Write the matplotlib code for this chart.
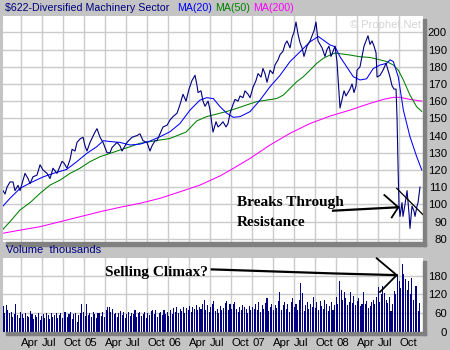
import numpy as np
import matplotlib
matplotlib.use("Agg")
import matplotlib.pyplot as plt
from matplotlib.patches import Rectangle

# weekly close, sampled off the chart (decimal years)
price_t = [2004.032, 2004.056, 2004.080, 2004.115, 2004.151, 2004.175, 2004.211, 2004.235, 2004.294, 2004.330,
           2004.354, 2004.389, 2004.437, 2004.473, 2004.508, 2004.556, 2004.592, 2004.627, 2004.675, 2004.735,
           2004.758, 2004.794, 2004.830, 2004.854, 2004.889, 2004.913, 2004.949, 2004.985, 2005.008, 2005.032,
           2005.068, 2005.127, 2005.151, 2005.187, 2005.223, 2005.246, 2005.270, 2005.306, 2005.330, 2005.389,
           2005.425, 2005.449, 2005.508, 2005.568, 2005.627, 2005.663, 2005.699, 2005.746, 2005.782, 2005.806,
           2005.842, 2005.865, 2005.901, 2005.937, 2005.985, 2006.020, 2006.056, 2006.104, 2006.139, 2006.175,
           2006.211, 2006.246, 2006.282, 2006.318, 2006.342, 2006.354, 2006.389, 2006.413, 2006.437, 2006.473,
           2006.496, 2006.532, 2006.568, 2006.592, 2006.615, 2006.651, 2006.687, 2006.711, 2006.735, 2006.770,
           2006.794, 2006.830, 2006.854, 2006.889, 2006.913, 2006.949, 2006.973, 2007.008, 2007.044, 2007.068,
           2007.104, 2007.127, 2007.151, 2007.175, 2007.211, 2007.246, 2007.270, 2007.306, 2007.330, 2007.365,
           2007.389, 2007.413, 2007.449, 2007.473, 2007.496, 2007.520, 2007.544, 2007.568, 2007.592, 2007.615,
           2007.651, 2007.687, 2007.711, 2007.735, 2007.758, 2007.782, 2007.806, 2007.830, 2007.865, 2007.889,
           2007.913, 2007.937, 2007.961, 2007.985, 2008.008, 2008.020, 2008.044, 2008.068, 2008.092, 2008.115,
           2008.139, 2008.163, 2008.187, 2008.211, 2008.235, 2008.246, 2008.282, 2008.306, 2008.330, 2008.354,
           2008.377, 2008.401, 2008.425, 2008.449, 2008.473, 2008.485, 2008.520, 2008.556, 2008.592, 2008.615,
           2008.639, 2008.663, 2008.687, 2008.711, 2008.723, 2008.735, 2008.746, 2008.758, 2008.782, 2008.794,
           2008.818, 2008.842, 2008.865, 2008.877, 2008.901, 2008.925, 2008.937, 2008.961, 2008.973, 2008.996]
price_v = [108, 106, 110, 113, 113, 108, 111, 108, 118, 115,
           112, 116, 117, 123, 120, 118, 115, 121, 118, 125,
           124, 121, 126, 132, 131, 136, 138, 139, 134, 131,
           136, 142, 144, 139, 136, 133, 130, 130, 133, 136,
           134, 131, 136, 139, 140, 141, 137, 136, 131, 134,
           137, 137, 141, 145, 146, 149, 151, 153, 158, 164,
           160, 167, 172, 175, 169, 165, 166, 160, 157, 160,
           155, 142, 148, 145, 146, 148, 145, 147, 153, 158,
           161, 160, 163, 162, 166, 164, 162, 168, 172, 176,
           174, 179, 176, 171, 178, 176, 181, 184, 187, 189,
           193, 195, 191, 197, 200, 206, 199, 194, 191, 186,
           192, 195, 198, 201, 206, 195, 193, 191, 186, 190,
           192, 186, 189, 192, 183, 174, 156, 161, 166, 163,
           165, 167, 170, 165, 169, 178, 180, 186, 192, 195,
           198, 193, 195, 192, 188, 174, 175, 178, 182, 178,
           174, 169, 167, 167, 150, 122, 100, 93, 101, 93,
           100, 108, 95, 86, 99, 96, 93, 99, 101, 110]

ma20_t = [2004.032, 2004.115, 2004.235, 2004.354, 2004.512, 2004.631, 2004.790, 2004.910, 2005.029, 2005.148,
          2005.226, 2005.306, 2005.425, 2005.544, 2005.663, 2005.782, 2005.901, 2006.020, 2006.139, 2006.258,
          2006.377, 2006.457, 2006.536, 2006.615, 2006.695, 2006.774, 2006.854, 2006.973, 2007.092, 2007.211,
          2007.330, 2007.449, 2007.568, 2007.687, 2007.786, 2007.845, 2007.925, 2007.985, 2008.044, 2008.123,
          2008.202, 2008.282, 2008.361, 2008.440, 2008.520, 2008.600, 2008.639, 2008.679, 2008.738, 2008.798,
          2008.877, 2008.957, 2009.017]
ma20_v = [99, 103.5, 109.3, 112.4, 116, 118, 120.3, 124.8, 129.6, 133.5,
          137, 136.5, 136, 134.5, 135, 136.8, 139.3, 142.2, 147, 154.8,
          160.6, 162, 161.5, 156.8, 153, 150.6, 151, 153.9, 160.6, 168.4,
          175, 183, 188.7, 194.5, 197.6, 195.5, 192.7, 191.6, 185.8, 180,
          174.2, 172.3, 173, 179, 181, 182, 184, 183, 174, 154.8,
          139.3, 127.7, 120]

ma50_t = [2004.032, 2004.115, 2004.235, 2004.354, 2004.473, 2004.592, 2004.711, 2004.830, 2004.949, 2005.068,
          2005.187, 2005.306, 2005.425, 2005.544, 2005.663, 2005.782, 2005.901, 2006.020, 2006.211, 2006.338,
          2006.457, 2006.576, 2006.695, 2006.814, 2006.933, 2007.052, 2007.171, 2007.290, 2007.369, 2007.449,
          2007.529, 2007.607, 2007.687, 2007.767, 2007.845, 2007.925, 2007.985, 2008.044, 2008.163, 2008.282,
          2008.401, 2008.520, 2008.600, 2008.679, 2008.738, 2008.798, 2008.877, 2008.957, 2009.017]
ma50_v = [85.5, 89.9, 96.7, 101, 106.4, 111.2, 114.1, 118, 121, 124.8,
          127.7, 129.6, 131.6, 133.5, 135.5, 136.4, 137.4, 138.3, 142, 148.5,
          151, 152.5, 154, 155.8, 157.8, 159.7, 160.6, 161.5, 163.5, 167.4,
          171.3, 174.2, 178, 182, 184.9, 186.8, 188, 187.6, 186.8, 185.8,
          185.4, 184, 183, 181, 178, 172.3, 163.5, 156.7, 154]

ma200_t = [2004.032, 2004.235, 2004.473, 2004.711, 2004.949, 2005.187, 2005.425, 2005.663, 2005.901, 2006.139,
           2006.377, 2006.615, 2006.735, 2006.973, 2007.211, 2007.449, 2007.687, 2007.925, 2008.163, 2008.401,
           2008.560, 2008.679, 2008.758, 2008.877, 2009.017]
ma200_v = [83.2, 85, 87, 89.9, 92.8, 95.7, 98.3, 100.6, 103.5, 107.3,
           111.2, 116.5, 119.8, 126.7, 134.5, 141.3, 147, 151.3, 154.8, 158.7,
           161, 162.2, 162.2, 161, 160]

# weekly volume (thousands), first week of 2004 onwards
vol_2004 = [82, 60, 86, 68, 58, 62, 48, 55, 88, 52, 45, 62, 56, 42, 58, 50, 48, 67, 55, 40,
            52, 46, 58, 38, 50, 56, 44, 60, 52, 40, 58, 48, 54, 60, 45, 52, 58, 42, 64, 62,
            48, 56, 64, 40, 55, 60, 30, 52, 58, 88, 62, 50]
vol_2005 = [88, 52, 60, 48, 62, 55, 44, 58, 58, 50, 62, 47, 70, 78, 80, 64, 72, 55, 60, 48,
            58, 66, 52, 62, 45, 56, 64, 50, 60, 55, 68, 46, 58, 62, 50, 56, 64, 44, 60, 52,
            66, 68, 55, 68, 48, 58, 62, 52, 70, 56, 64, 50]
vol_2006 = [68, 55, 75, 62, 78, 58, 72, 66, 80, 60, 76, 70, 82, 64, 78, 72, 86, 68, 80, 74,
            88, 100, 70, 84, 62, 78, 90, 97, 66, 74, 58, 82, 70, 76, 92, 97, 68, 88, 74, 90,
            96, 72, 64, 80, 70, 86, 80, 74, 60, 82, 68, 78]
vol_2007 = [72, 88, 70, 95, 62, 85, 74, 92, 108, 66, 80, 90, 70, 84, 75, 98, 126, 68, 86, 94,
            72, 88, 64, 96, 108, 78, 90, 70, 102, 157, 124, 66, 85, 96, 72, 90, 80, 111, 76, 94,
            68, 97, 82, 74, 100, 88, 66, 81, 94, 70, 86, 110]
vol_2008 = [90, 162, 135, 100, 126, 108, 85, 95, 126, 92, 113, 86, 98, 108, 82, 90, 126, 88, 97, 75,
            81, 94, 103, 88, 110, 143, 96, 120, 146, 124, 100, 92, 110, 65, 88, 132, 120, 178, 162, 140,
            218, 186, 168, 135, 162, 120, 173, 103, 146, 146, 65, 92]
volume = vol_2004 + vol_2005 + vol_2006 + vol_2007 + vol_2008

quarter_ticks = [2004.25, 2004.5, 2004.75, 2005.0, 2005.25, 2005.5, 2005.75, 2006.0, 2006.25, 2006.5,
                 2006.75, 2007.0, 2007.25, 2007.5, 2007.75, 2008.0, 2008.25, 2008.5, 2008.75]
quarter_labels = ["Apr", "Jul", "Oct", "05", "Apr", "Jul", "Oct", "06", "Apr", "Jul",
                  "Oct", "07", "Apr", "Jul", "Oct", "08", "Apr", "Jul", "Oct"]
price_ticks = list(range(80, 201, 10))
vol_ticks = [0, 60, 120, 180]

BG = "#c4c4c4"
GRID = "#cbcbcb"
NAVY = "#000080"
SHADOW = "#808080"
W, H = 450, 350


def fx(px):
    return px / W


def fy(py):
    return 1 - py / H


plt.rcParams["font.family"] = ["Liberation Sans", "DejaVu Sans"]
fig = plt.figure(figsize=(4.5, 3.5), dpi=100, facecolor=BG)

# drop shadows behind the two panels
for top, bot in [(19, 245.5), (261, 335)]:
    fig.patches.append(Rectangle((fx(422.5), fy(bot)), fx(3.5), fy(top) - fy(bot),
                                 transform=fig.transFigure, color=SHADOW, zorder=0))
    fig.patches.append(Rectangle((fx(6), fy(bot)), fx(420), fy(bot - 3.5) - fy(bot),
                                 transform=fig.transFigure, color=SHADOW, zorder=0))

ax = fig.add_axes([fx(3), fy(242), fx(419.5), fy(16) - fy(242)])
axv = fig.add_axes([fx(3), fy(331.5), fx(419.5), fy(258) - fy(331.5)], sharex=ax)

xmin, xmax = 2004.032, 2009.026
for a in (ax, axv):
    a.set_facecolor("white")
    for s in a.spines.values():
        s.set_visible(False)
    a.grid(True, color=GRID, lw=1.0)
    a.set_axisbelow(True)
    a.yaxis.tick_right()
    a.tick_params(axis="y", length=0, pad=17.6, labelsize=8.2, colors="black")
    a.tick_params(axis="x", length=0)

ax.plot(ma200_t, ma200_v, color="#ff00ff", lw=0.75)
ax.plot(ma50_t, ma50_v, color="#008000", lw=0.75)
ax.plot(ma20_t, ma20_v, color="#0000ff", lw=0.75)
ax.plot(price_t, price_v, color=NAVY, lw=0.8)
ax.set_ylim(78.1, 209.5)
ax.set_yticks(price_ticks)
ax.set_xlim(xmin, xmax)
ax.set_xticks(quarter_ticks)
ax.tick_params(axis="x", labelbottom=False)
for lab in ax.get_yticklabels():
    lab.set_horizontalalignment("right")

vol_t = xmin + np.arange(len(volume)) * 7 / 365.25
axv.bar(vol_t, volume, width=0.0125, color=NAVY, linewidth=0)
axv.set_ylim(0, 236.8)
axv.set_yticks(vol_ticks)
axv.set_xticks(quarter_ticks)
axv.set_xticklabels(quarter_labels, ha="left")
axv.tick_params(axis="x", pad=4.5, labelsize=8.2)
for lab in axv.get_yticklabels():
    lab.set_horizontalalignment("right")

# header
fig.text(fx(5), fy(8), "$622-Diversified Machinery Sector", color=NAVY, fontsize=7.7, va="center")
fig.text(fx(177), fy(8), "MA(20)", color="#0000ff", fontsize=7.7, va="center")
fig.text(fx(215.5), fy(8), "MA(50)", color="#008000", fontsize=7.7, va="center")
fig.text(fx(253), fy(8), "MA(200)", color="#ff00ff", fontsize=7.7, va="center")
fig.text(fx(421), fy(25), "\u00a9 Prophet.Net", color="#d4d4d4", fontsize=8, ha="right", va="center")
fig.text(fx(6), fy(250), "Volume  thousands", color=NAVY, fontsize=8, va="center")

# hand-drawn annotations
serif = dict(family=["Liberation Serif", "DejaVu Serif"], weight="bold", fontsize=11, color="black")
ax.text(2006.818, 100.9, "Breaks Through", va="center", **serif)
ax.text(2006.818, 89.7, "Resistance", va="center", **serif)
ax.plot([2007.961, 2008.738], [96.3, 98.3], color="black", lw=1.6, clip_on=False)
ax.plot([2008.572, 2008.738, 2008.660], [105.4, 98.3, 92.4], color="black", lw=1.3, clip_on=False)
ax.plot([2008.719, 2009.056], [109.3, 92.8], color="black", lw=0.9, clip_on=False)

axv.text(2005.246, 191.4, "Selling Climax?", va="center", **serif)
axv.plot([2006.517, 2007.961, 2008.719], [200.1, 187.1, 181.6], color="black", lw=1.6, clip_on=False)
axv.plot([2008.481, 2008.719, 2008.520], [235.8, 181.6, 127.5], color="black", lw=1.3, clip_on=False)

fig.savefig("out.png", dpi=100, facecolor=BG)
